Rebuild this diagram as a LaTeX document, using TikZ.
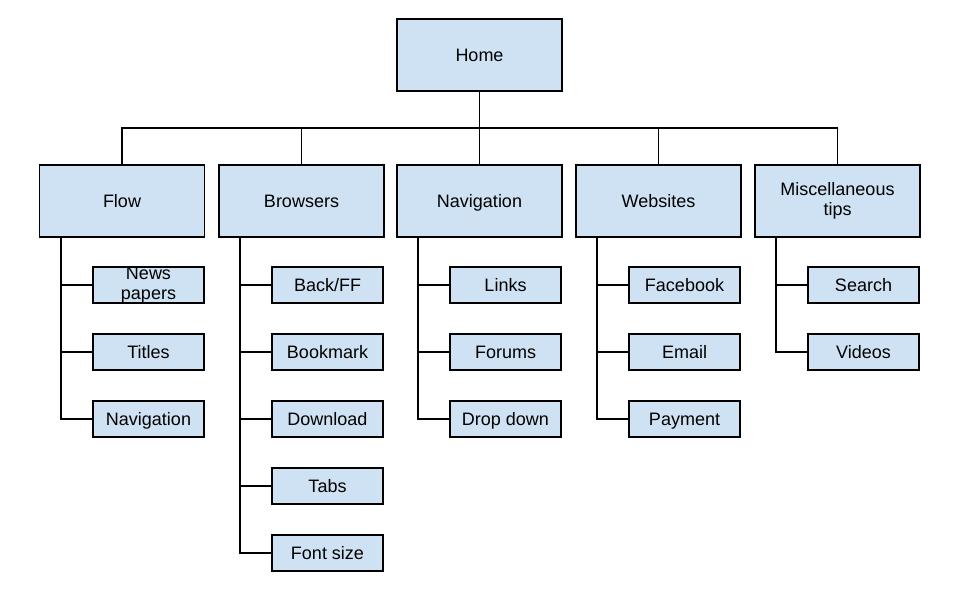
\documentclass[tikz,border=0pt]{standalone}
\usepackage{fontspec}
\setmainfont{Liberation Sans}
\definecolor{boxblue}{HTML}{CFE2F3}

\begin{document}
\begin{tikzpicture}[x=1pt,y=-1pt]
\begin{scope}
	\tikzstyle{every node}=[align=center, font=\fontsize{18}{20}\selectfont]
	\tikzstyle{topbox}=[draw, line width=1.8pt, fill=boxblue, minimum width=165pt, minimum height=72pt, inner sep=0pt, text height=13pt, text depth=0pt]
	\tikzstyle{subbox}=[draw, line width=1.8pt, fill=boxblue, minimum width=111pt, minimum height=36pt, inner sep=0pt, text height=13pt, text depth=0pt]
	\tikzstyle{twolines}=[text height=, text depth=]
	\tikzstyle{link}=[line width=1.8pt]
	\useasboundingbox (0,0) rectangle (960,596);

	\node[topbox] (home) at (479.5,55) {Home};
	\node[topbox] (flow) at (122,201) {Flow};
	\node[topbox] (brw) at (301.5,201) {Browsers};
	\node[topbox] (nav) at (479.5,201) {Navigation};
	\node[topbox] (web) at (658.5,201) {Websites};
	\node[topbox, twolines] (misc) at (837.5,201) {Miscellaneous\\tips};

	\node[subbox, twolines] (fl1) at (148.5,285) {News\\papers};
	\node[subbox] (fl2) at (148.5,352) {Titles};
	\node[subbox] (fl3) at (148.5,419) {Navigation};

	\node[subbox] (br1) at (327.5,285) {Back/FF};
	\node[subbox] (br2) at (327.5,352) {Bookmark};
	\node[subbox] (br3) at (327.5,419) {Download};
	\node[subbox] (br4) at (327.5,486) {Tabs};
	\node[subbox] (br5) at (327.5,553) {Font size};

	\node[subbox] (nv1) at (505.5,285) {Links};
	\node[subbox] (nv2) at (505.5,352) {Forums};
	\node[subbox] (nv3) at (505.5,419) {Drop down};

	\node[subbox] (wb1) at (684.5,285) {Facebook};
	\node[subbox] (wb2) at (684.5,352) {Email};
	\node[subbox] (wb3) at (684.5,419) {Payment};

	\node[subbox] (ms1) at (863.5,285) {Search};
	\node[subbox] (ms2) at (863.5,352) {Videos};

	\coordinate (bus) at (479.5,128);
	\draw[link] (home) -- (bus);
	\draw[link] (bus) -| (flow);
	\draw[link] (bus) -| (brw);
	\draw[link] (bus) -- (nav);
	\draw[link] (bus) -| (web);
	\draw[link] (bus) -| (misc);

	\draw[link] ([xshift=22pt]flow.south west) |- (fl1);
	\draw[link] ([xshift=22pt]flow.south west) |- (fl2);
	\draw[link] ([xshift=22pt]flow.south west) |- (fl3);

	\draw[link] ([xshift=22pt]brw.south west) |- (br1);
	\draw[link] ([xshift=22pt]brw.south west) |- (br2);
	\draw[link] ([xshift=22pt]brw.south west) |- (br3);
	\draw[link] ([xshift=22pt]brw.south west) |- (br4);
	\draw[link] ([xshift=22pt]brw.south west) |- (br5);

	\draw[link] ([xshift=22pt]nav.south west) |- (nv1);
	\draw[link] ([xshift=22pt]nav.south west) |- (nv2);
	\draw[link] ([xshift=22pt]nav.south west) |- (nv3);

	\draw[link] ([xshift=22pt]web.south west) |- (wb1);
	\draw[link] ([xshift=22pt]web.south west) |- (wb2);
	\draw[link] ([xshift=22pt]web.south west) |- (wb3);

	\draw[link] ([xshift=22pt]misc.south west) |- (ms1);
	\draw[link] ([xshift=22pt]misc.south west) |- (ms2);
\end{scope}
\end{tikzpicture}
\end{document}
